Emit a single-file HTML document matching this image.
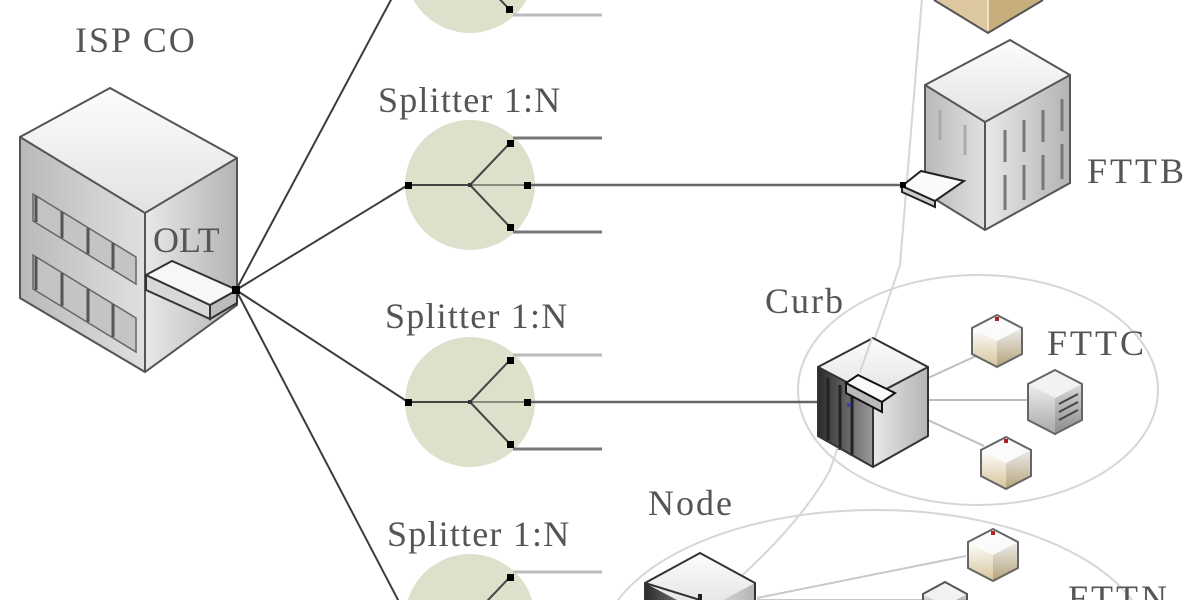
<!DOCTYPE html>
<html><head><meta charset="utf-8"><style>
html,body{margin:0;padding:0;background:#fff;width:1200px;height:600px;overflow:hidden;}
svg{display:block;overflow:hidden;}
text{font-family:"Liberation Serif",serif;fill:#555;font-size:36px;}
</style></head><body>
<svg width="1200" height="600" viewBox="0 0 1200 600" xmlns="http://www.w3.org/2000/svg">
<defs>
 <linearGradient id="topg" x1="0" y1="0" x2="0" y2="1"><stop offset="0" stop-color="#fdfdfd"/><stop offset="1" stop-color="#e2e2e2"/></linearGradient>
 <linearGradient id="leftg" x1="0" y1="0" x2="1" y2="0"><stop offset="0" stop-color="#b9b9b9"/><stop offset="1" stop-color="#e0e0e0"/></linearGradient>
 <linearGradient id="rightg" x1="0" y1="0" x2="1" y2="0"><stop offset="0" stop-color="#e8e8e8"/><stop offset="1" stop-color="#b4b4b4"/></linearGradient>
 <linearGradient id="darkg" x1="0" y1="0" x2="1" y2="0"><stop offset="0" stop-color="#2a2a2a"/><stop offset="1" stop-color="#9a9a9a"/></linearGradient>
 <linearGradient id="ontl" x1="0" y1="0" x2="0" y2="1"><stop offset="0" stop-color="#ffffff"/><stop offset="1" stop-color="#d6c49a"/></linearGradient>
 <linearGradient id="ontr" x1="0" y1="0" x2="0" y2="1"><stop offset="0" stop-color="#ececec"/><stop offset="1" stop-color="#b7a37a"/></linearGradient>
 <linearGradient id="srvl" x1="0" y1="0" x2="0" y2="1"><stop offset="0" stop-color="#eeeeee"/><stop offset="1" stop-color="#a8a8a8"/></linearGradient>
 <linearGradient id="srvr" x1="0" y1="0" x2="0" y2="1"><stop offset="0" stop-color="#d8d8d8"/><stop offset="1" stop-color="#8c8c8c"/></linearGradient>
 <g id="ont">
  <polygon points="0,-26 25,-13 0,0 -25,-13" fill="#fbfbfb"/>
  <polygon points="-25,-13 0,0 0,26 -25,13" fill="url(#ontl)"/>
  <polygon points="0,0 25,-13 25,13 0,26" fill="url(#ontr)"/>
  <polygon points="0,-26 25,-13 25,13 0,26 -25,13 -25,-13" fill="none" stroke="#666" stroke-width="2"/>
  <rect x="-2" y="-24" width="4" height="4" fill="#b02020"/>
 </g>
</defs>

<ellipse cx="978" cy="390" rx="180" ry="115" fill="none" stroke="#d6d6d6" stroke-width="2"/>
<ellipse cx="875" cy="650" rx="275" ry="140" fill="none" stroke="#d6d6d6" stroke-width="2"/>
<path d="M922,-2 L900,265 L830,470 Q800,525 728,588" fill="none" stroke="#d6d6d6" stroke-width="2"/>

<g stroke="#3c3c3c" stroke-width="2" fill="none">
 <line x1="236" y1="290" x2="408" y2="-32"/>
 <line x1="236" y1="290" x2="408" y2="185"/>
 <line x1="236" y1="290" x2="408" y2="402"/>
 <line x1="236" y1="290" x2="408" y2="619"/>
</g>

<circle cx="470" cy="-32" r="65" fill="#dee0cb"/>
<line x1="470" y1="-32" x2="510" y2="10" stroke="#444" stroke-width="2"/>
<line x1="513" y1="15" x2="602" y2="15" stroke="#bbb" stroke-width="3"/>
<rect x="506" y="6" width="7" height="7" fill="#000"/>

<text x="378" y="112" style="letter-spacing:1.2px">Splitter 1:N</text>
<circle cx="470" cy="185" r="65" fill="#dee0cb"/>
<g stroke-width="2">
 <line x1="408" y1="185" x2="470" y2="185" stroke="#444"/>
 <line x1="470" y1="185" x2="527" y2="185" stroke="#8a8a7a"/>
 <line x1="470" y1="185" x2="510" y2="143" stroke="#444"/>
 <line x1="470" y1="185" x2="510" y2="227" stroke="#444"/>
</g>
<line x1="513" y1="138" x2="602" y2="138" stroke="#777" stroke-width="3"/>
<line x1="513" y1="232" x2="602" y2="232" stroke="#777" stroke-width="3"/>
<line x1="530" y1="185" x2="904" y2="185" stroke="#666" stroke-width="2.5"/>
<rect x="405" y="182" width="7" height="7" fill="#000"/>
<rect x="524" y="182" width="7" height="7" fill="#000"/>
<rect x="507" y="140" width="7" height="7" fill="#000"/>
<rect x="507" y="224" width="7" height="7" fill="#000"/>
<rect x="468" y="183" width="4" height="4" fill="#333"/>

<text x="385" y="328" style="letter-spacing:1.2px">Splitter 1:N</text>
<circle cx="470" cy="402" r="65" fill="#dee0cb"/>
<g stroke-width="2">
 <line x1="408" y1="402" x2="470" y2="402" stroke="#444"/>
 <line x1="470" y1="402" x2="527" y2="402" stroke="#8a8a7a"/>
 <line x1="470" y1="402" x2="510" y2="360" stroke="#444"/>
 <line x1="470" y1="402" x2="510" y2="444" stroke="#444"/>
</g>
<line x1="513" y1="355" x2="602" y2="355" stroke="#bbb" stroke-width="3"/>
<line x1="513" y1="449" x2="602" y2="449" stroke="#777" stroke-width="3"/>
<line x1="530" y1="402" x2="822" y2="402" stroke="#666" stroke-width="2.5"/>
<rect x="405" y="399" width="7" height="7" fill="#000"/>
<rect x="524" y="399" width="7" height="7" fill="#000"/>
<rect x="507" y="357" width="7" height="7" fill="#000"/>
<rect x="507" y="441" width="7" height="7" fill="#000"/>
<rect x="468" y="400" width="4" height="4" fill="#333"/>

<text x="387" y="546" style="letter-spacing:1.2px">Splitter 1:N</text>
<circle cx="470" cy="619" r="65" fill="#dee0cb"/>
<line x1="470" y1="619" x2="510" y2="577" stroke="#444" stroke-width="2"/>
<line x1="513" y1="572" x2="602" y2="572" stroke="#bbb" stroke-width="3"/>
<rect x="507" y="574" width="7" height="7" fill="#000"/>

<text x="75" y="52" style="letter-spacing:2px">ISP CO</text>
<polygon points="20,137 145,213 145,372 20,298" fill="url(#leftg)"/>
<polygon points="145,213 237,158 237,305 145,372" fill="url(#rightg)"/>
<polygon points="110,88 237,158 145,213 20,137" fill="url(#topg)"/>
<g fill="#c4c4c4" stroke="#666" stroke-width="1.5">
 <polygon points="33,194 136,257 136,284 33,221"/>
 <polygon points="33,255 136,318 136,352 33,289"/>
</g>
<g stroke="#555" stroke-width="3">
 <line x1="36" y1="196" x2="36" y2="222"/><line x1="62" y1="212" x2="62" y2="238"/><line x1="88" y1="228" x2="88" y2="254"/><line x1="113" y1="243" x2="113" y2="269"/>
 <line x1="36" y1="257" x2="36" y2="290"/><line x1="62" y1="273" x2="62" y2="306"/><line x1="88" y1="289" x2="88" y2="322"/><line x1="113" y1="304" x2="113" y2="337"/>
</g>
<g fill="none" stroke="#555" stroke-width="2">
 <polygon points="110,88 237,158 237,305 145,372 20,298 20,137"/>
 <polyline points="20,137 145,213 237,158"/>
 <line x1="145" y1="213" x2="145" y2="372"/>
</g>
<text x="153" y="252">OLT</text>
<polygon points="146,275 210,305 210,319 146,290" fill="#d8d8d8" stroke="#333" stroke-width="2"/>
<polygon points="210,305 237,290 237,303 210,319" fill="#bcbcbc" stroke="#333" stroke-width="2"/>
<polygon points="146,275 172,261 237,290 210,305" fill="#f7f7f7" stroke="#333" stroke-width="2"/>
<rect x="232" y="286" width="8" height="8" fill="#000"/>

<polygon points="934,0 988,32 988,0" fill="#dcc7a0"/>
<polygon points="988,0 988,32 1043,0" fill="#c8ae7c"/>
<line x1="988" y1="0" x2="988" y2="30" stroke="#eee2c8" stroke-width="2"/>
<polyline points="934,0 988,33 1043,0" fill="none" stroke="#555" stroke-width="2"/>

<polygon points="925,85 985,122 985,230 925,193" fill="url(#leftg)"/>
<polygon points="985,122 1070,75 1070,183 985,230" fill="url(#rightg)"/>
<polygon points="1010,40 1070,75 985,122 925,85" fill="url(#topg)"/>
<g stroke="#777" stroke-width="3">
 <line x1="1005" y1="130" x2="1005" y2="162"/><line x1="1024" y1="120" x2="1024" y2="152"/><line x1="1043" y1="110" x2="1043" y2="142"/><line x1="1062" y1="99" x2="1062" y2="131"/>
 <line x1="1005" y1="175" x2="1005" y2="210"/><line x1="1024" y1="165" x2="1024" y2="200"/><line x1="1043" y1="155" x2="1043" y2="190"/><line x1="1062" y1="144" x2="1062" y2="179"/>
 <line x1="940" y1="110" x2="940" y2="140" stroke="#aaa"/><line x1="965" y1="125" x2="965" y2="155" stroke="#aaa"/>
</g>
<g fill="none" stroke="#555" stroke-width="2">
 <polygon points="1010,40 1070,75 1070,183 985,230 925,193 925,85"/>
 <polyline points="925,85 985,122 1070,75"/>
 <line x1="985" y1="122" x2="985" y2="230"/>
</g>
<text x="1087" y="183" style="letter-spacing:3px">FTTB</text>
<polygon points="902,186 935,201 935,207 902,192" fill="#ccc" stroke="#222" stroke-width="2"/>
<polygon points="902,186 921,171 964,181 935,201" fill="#fafafa" stroke="#222" stroke-width="2"/>
<rect x="900" y="182" width="6" height="6" fill="#000"/>

<g stroke="#bdbdbd" stroke-width="2">
 <line x1="928" y1="378" x2="976" y2="356"/>
 <line x1="928" y1="400" x2="1030" y2="400"/>
 <line x1="928" y1="420" x2="984" y2="446"/>
</g>
<polygon points="818,367 873,396 873,467 818,436" fill="url(#darkg)"/>
<polygon points="873,396 928,367 928,436 873,467" fill="url(#rightg)"/>
<polygon points="873,338 928,367 873,396 818,367" fill="url(#topg)"/>
<g stroke="#222" stroke-width="3">
 <line x1="828" y1="378" x2="828" y2="440"/><line x1="840" y1="385" x2="840" y2="450"/><line x1="852" y1="392" x2="852" y2="456"/>
</g>
<g fill="none" stroke="#333" stroke-width="2">
 <polygon points="873,338 928,367 928,436 873,467 818,436 818,367"/>
 <polyline points="818,367 873,396 928,367"/>
 <line x1="873" y1="396" x2="873" y2="467"/>
</g>
<line x1="872" y1="338" x2="860" y2="372" stroke="#d6d6d6" stroke-width="2"/>
<polygon points="846,383 882,402 882,412 846,393" fill="#bbb" stroke="#111" stroke-width="2"/>
<polygon points="846,383 858,375 895,393 882,402" fill="#fafafa" stroke="#111" stroke-width="2"/>
<rect x="847" y="403" width="4" height="4" fill="#4040a0"/>
<text x="765" y="313" style="letter-spacing:2px">Curb</text>
<text x="1047" y="355" style="letter-spacing:3px">FTTC</text>

<use href="#ont" x="997" y="341"/>
<use href="#ont" x="1006" y="463"/>
<g transform="translate(1055,402)">
 <polygon points="0,-32 27,-18 0,-4 -27,-18" fill="#f2f2f2"/>
 <polygon points="-27,-18 0,-4 0,32 -27,18" fill="url(#srvl)"/>
 <polygon points="0,-4 27,-18 27,18 0,32" fill="url(#srvr)"/>
 <g stroke="#444" stroke-width="2"><line x1="4" y1="2" x2="23" y2="-8"/><line x1="4" y1="10" x2="23" y2="0"/><line x1="4" y1="18" x2="23" y2="8"/></g>
 <polygon points="0,-32 27,-18 27,18 0,32 -27,18 -27,-18" fill="none" stroke="#666" stroke-width="2"/>
</g>

<g stroke="#c8c8c8" stroke-width="2">
 <line x1="757" y1="598" x2="966" y2="556"/>
 <line x1="757" y1="600" x2="925" y2="600"/>
</g>
<polygon points="645,583 700,612 700,600 645,600" fill="url(#darkg)"/>
<polygon points="700,600 700,612 755,583 755,600" fill="url(#rightg)"/>
<polygon points="700,553 755,583 700,612 645,583" fill="url(#topg)"/>
<g fill="none" stroke="#333" stroke-width="2">
 <polyline points="645,600 645,583 700,553 755,583 755,600"/>
 <polyline points="645,583 700,600"/>
</g>
<line x1="700" y1="594" x2="700" y2="600" stroke="#222" stroke-width="4"/>
<text x="648" y="515" style="letter-spacing:2px">Node</text>
<use href="#ont" x="993" y="555"/>
<g transform="translate(945,610)">
 <polygon points="0,-28 22,-16 0,-4 -22,-16" fill="#f2f2f2"/>
 <polygon points="-22,-16 0,-4 0,-10 -22,-10" fill="url(#srvl)"/>
 <polygon points="0,-4 22,-16 22,-10 0,-10" fill="url(#srvr)"/>
 <polyline points="-22,-10 -22,-16 0,-28 22,-16 22,-10" fill="none" stroke="#555" stroke-width="2"/>
</g>
<text x="1068" y="610" style="letter-spacing:3px">FTTN</text>
</svg>
</body></html>
